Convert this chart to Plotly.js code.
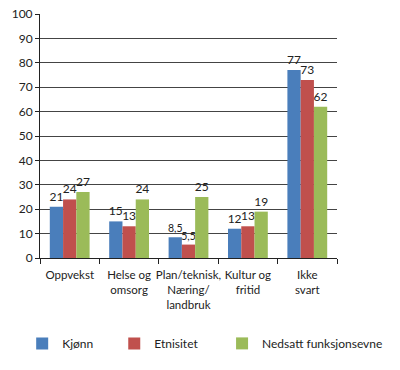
<!DOCTYPE html>
<html>
<head>
<meta charset="utf-8">
<script src="https://cdn.plot.ly/plotly-3.0.1.min.js"></script>
<style>html,body{margin:0;padding:0;background:#fff}#chart{width:400px;height:370px}</style>
</head>
<body>
<div id="chart"></div>
<script>
const categories = ["Oppvekst", "Helse og<br>omsorg", "Plan/teknisk,<br>Næring/<br>landbruk", "Kultur og<br>fritid", "Ikke<br>svart"];
const seriesNames = ["Kjønn", "Etnisitet", "Nedsatt funksjonsevne"];
const kjonn = [21, 15, 8.5, 12, 77];
const etnisitet = [24, 13, 5.5, 13, 73];
const nedsatt = [27, 24, 25, 19, 62];
const colors = ["#4a7ebb", "#c0504d", "#9bbb59"];

const fmt = v => String(v).replace('.', ',');
const fam = "Lato, Open Sans, DejaVu Sans, sans-serif";
const font = {family: fam, size: 12, color: "#222"};
const tickFont = {family: fam, size: 11.5, color: "#222"};
const seriesData = [kjonn, etnisitet, nedsatt];
const legendNames = ["legend", "legend2", "legend3"];
const traces = seriesData.map((vals, i) => ({
  type: "bar",
  name: seriesNames[i],
  x: categories,
  y: vals,
  text: vals.map(fmt),
  textposition: "outside",
  constraintext: "none",
  cliponaxis: false,
  textfont: {family: fam, size: vals.map(v => (Number.isInteger(v) ? 12 : 10.5)), color: "#222"},
  marker: {color: colors[i], line: {width: 0}},
  legend: legendNames[i],
  hoverinfo: "none"
}));

const legendBase = {orientation: "h", yanchor: "middle", y: -0.35, xanchor: "left", font: font, bgcolor: "rgba(0,0,0,0)", itemclick: false};
const layout = {
  width: 400, height: 370,
  margin: {l: 40, r: 15, t: 14, b: 106},
  paper_bgcolor: "#fff", plot_bgcolor: "#fff",
  font: font,
  barmode: "group",
  bargap: 0.33,
  bargroupgap: 0,
  showlegend: true,
  legend: Object.assign({}, legendBase, {x: -0.06}),
  legend2: Object.assign({}, legendBase, {x: 0.25}),
  legend3: Object.assign({}, legendBase, {x: 0.613}),
  xaxis: {
    type: "category",
    showline: true, linecolor: "#222", linewidth: 1,
    ticks: "outside", tickson: "boundaries", ticklen: 5, tickcolor: "#222",
    ticklabelstandoff: 6,
    showgrid: false, tickangle: 0,
    tickfont: tickFont, automargin: false
  },
  yaxis: {
    range: [0, 100], dtick: 10,
    showline: true, linecolor: "#222", linewidth: 1,
    ticks: "outside", ticklen: 4, tickcolor: "#222",
    showgrid: true, gridcolor: "#444", gridwidth: 1,
    zeroline: false,
    tickfont: font, automargin: false
  }
};
Plotly.newPlot("chart", traces, layout, {staticPlot: true, displayModeBar: false});
</script>
</body>
</html>
